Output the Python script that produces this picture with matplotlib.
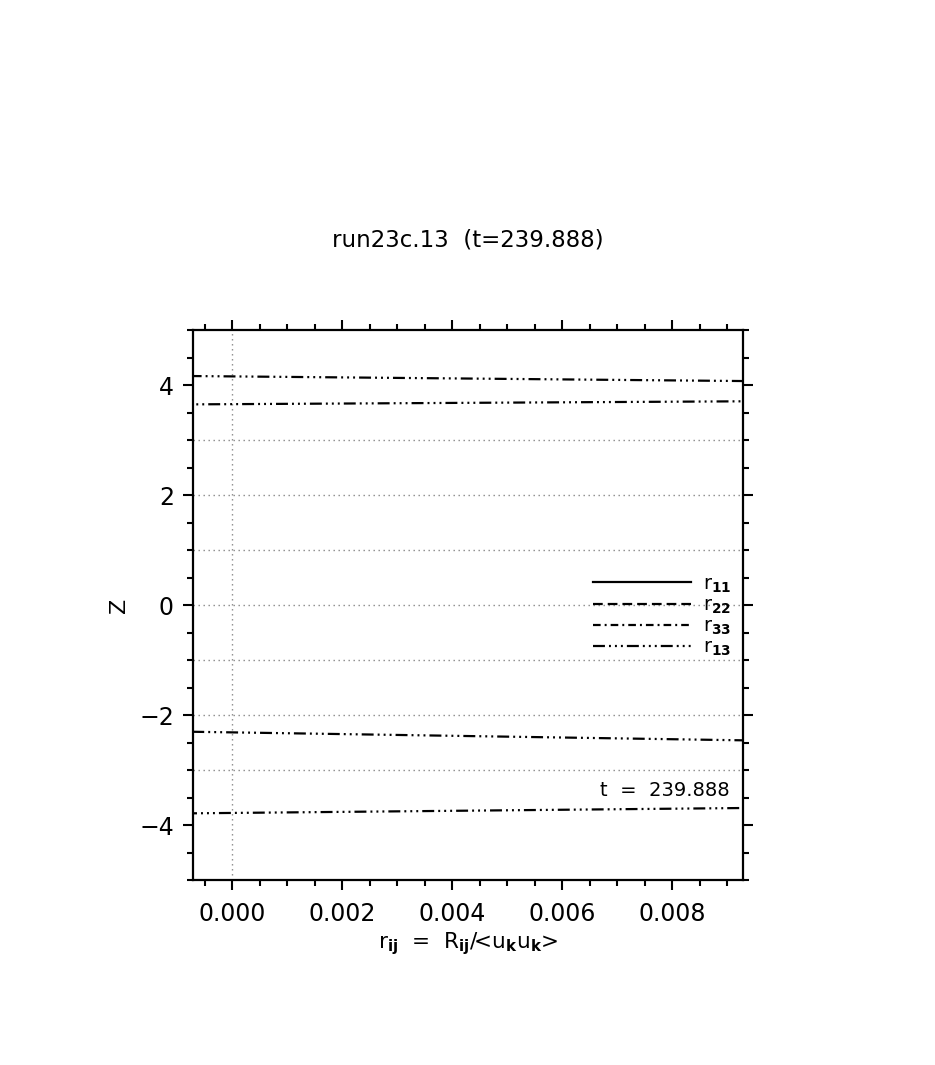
import matplotlib
matplotlib.use("Agg")
import matplotlib.pyplot as plt
from matplotlib.ticker import MultipleLocator, FormatStrFormatter

plt.rcParams['font.family'] = ['DejaVu Sans']
plt.rcParams['lines.scale_dashes'] = False

# ---- data ----
# r13 profile: x = r13, z = height; crosses the visible window several times
r13_x = [-0.0012, -0.0012, 0.0098, 0.0098, -0.0012, -0.0012, 0.0098, 0.0098, -0.0012, -0.0012]
r13_z = [-5.3, -3.792, -3.686, -2.468, -2.297, 3.646, 3.707, 4.068, 4.168, 5.3]
# r11, r22, r33 lie outside the plotted window
r11_x, r11_z = [], []
r22_x, r22_z = [], []
r33_x, r33_z = [], []

grid_z = [-3, -2, -1, 0, 1, 2, 3]
grid_x = [0.0]

title = "run23c.13  (t=239.888)"
time_label = "t  =  239.888"
labels = [r"r$_{\mathbf{11}}$", r"r$_{\mathbf{22}}$", r"r$_{\mathbf{33}}$", r"r$_{\mathbf{13}}$"]

# ---- styles ----
ls_r11 = '-'
ls_r22 = (0, (7.0, 3.6))
ls_r33 = (0, (5.5, 2.9, 1.4, 2.9))
ls_r13 = (0, (8.6, 2.9, 1.4, 2.9, 1.4, 2.9, 1.4, 2.9))

fig = plt.figure(figsize=(9.35, 10.65), dpi=100)
ax = fig.add_axes([0.2061, 0.1737, 0.5886, 0.5164])

for z in grid_z:
    ax.axhline(z, color='#888888', lw=1.0, ls=(0, (1.0, 2.6)), zorder=1)
for x in grid_x:
    ax.axvline(x, color='#888888', lw=1.0, ls=(0, (1.0, 2.6)), zorder=1)

l11, = ax.plot(r11_x, r11_z, color='black', lw=1.6, ls=ls_r11)
l22, = ax.plot(r22_x, r22_z, color='black', lw=1.6, ls=ls_r22)
l33, = ax.plot(r33_x, r33_z, color='black', lw=1.6, ls=ls_r33)
l13, = ax.plot(r13_x, r13_z, color='black', lw=1.6, ls=ls_r13)

ax.set_xlim(-0.00072, 0.00929)
ax.set_ylim(-5, 5)

ax.xaxis.set_major_locator(MultipleLocator(0.002))
ax.xaxis.set_minor_locator(MultipleLocator(0.0005))
ax.yaxis.set_major_locator(MultipleLocator(2))
ax.yaxis.set_minor_locator(MultipleLocator(0.5))
ax.xaxis.set_major_formatter(FormatStrFormatter('%.3f'))

ax.tick_params(which='both', direction='out', top=True, right=True, width=1.5)
ax.tick_params(which='major', length=7.5, labelsize=17)
ax.tick_params(which='minor', length=4)
ax.tick_params(axis='x', which='major', pad=8)
ax.tick_params(axis='y', which='major', pad=6)
for s in ax.spines.values():
    s.set_linewidth(1.6)

ax.set_xlabel(r"r$_{\mathbf{ij}}$  =  R$_{\mathbf{ij}}$/<u$_{\mathbf{k}}$u$_{\mathbf{k}}$>", fontsize=15.5, labelpad=3)
ax.set_ylabel("Z", fontsize=16, labelpad=7)
fig.text(0.5005, 0.775, title, fontsize=16.5, ha='center', va='center')

ax.text(0.00905, -3.38, time_label, fontsize=14, ha='right', va='center')

leg = ax.legend([l11, l22, l33, l13], labels, loc='upper left',
                bbox_to_anchor=(0.728, 0.556), frameon=False, fontsize=14,
                handlelength=5.0, handletextpad=0.65, labelspacing=0.05,
                borderpad=0.0, borderaxespad=0.0)

fig.savefig("out.png", dpi=100)
